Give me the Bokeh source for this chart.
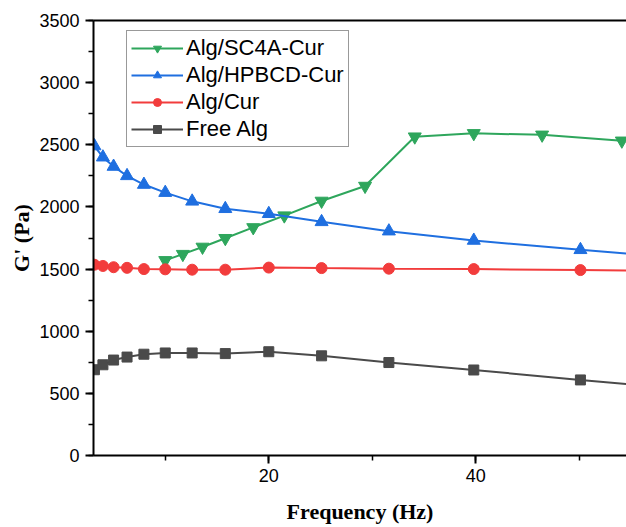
from bokeh.plotting import figure
from bokeh.models import (Range1d, SingleIntervalTicker, LinearAxis, FixedTicker,
                          Legend, LegendItem)
from bokeh.embed import file_html
from bokeh.resources import INLINE

# ---- data ----
freq_std = [3.16, 3.98, 5.01, 6.31, 7.94, 10.0, 12.6, 15.8, 20.0, 25.1, 31.6, 39.8, 50.1, 63.1]
freq_sc4a = [10.0, 11.7, 13.6, 15.8, 18.5, 21.5, 25.1, 29.3, 34.1, 39.8, 46.4, 54.1]

g_sc4a_cur = [1570, 1620, 1678, 1748, 1835, 1930, 2048, 2168, 2565, 2592, 2580, 2532]
g_hpbcd_cur = [2490, 2400, 2325, 2250, 2180, 2115, 2045, 1985, 1945, 1880, 1805, 1730, 1655, 1570]
g_cur = [1535, 1525, 1515, 1510, 1500, 1498, 1495, 1495, 1512, 1508, 1503, 1500, 1492, 1482]
g_free = [690, 730, 768, 792, 815, 825, 825, 820, 835, 802, 748, 688, 608, 510]

labels = ["Alg/SC4A-Cur", "Alg/HPBCD-Cur", "Alg/Cur", "Free Alg"]
colors = ["#2EA65C", "#1F6FE0", "#F23C3C", "#4A4A4A"]

p = figure(width=626, height=527, output_backend="svg", toolbar_location=None,
           x_range=Range1d(3.07, 54.55), y_range=Range1d(0, 3500),
           min_border_left=93, min_border_right=0, min_border_top=20, min_border_bottom=72,
           x_axis_label="Frequency (Hz)", y_axis_label="G' (Pa)")
p.outline_line_color = None
p.xgrid.grid_line_color = None
p.ygrid.grid_line_color = None
p.background_fill_color = "white"
p.border_fill_color = "white"

p.xaxis.ticker = SingleIntervalTicker(interval=20, num_minor_ticks=2)
p.yaxis.ticker = SingleIntervalTicker(interval=500, num_minor_ticks=2)

for ax in (p.xaxis[0], p.yaxis[0]):
    ax.axis_line_width = 2
    ax.axis_line_color = "black"
    ax.major_tick_line_width = 2
    ax.minor_tick_line_width = 1.5
    ax.major_tick_line_color = "black"
    ax.minor_tick_line_color = "black"
    ax.major_tick_out = 8
    ax.major_tick_in = 0
    ax.minor_tick_out = 5
    ax.minor_tick_in = 0
    ax.major_label_text_font = "Liberation Sans"
    ax.major_label_text_font_size = "18px"
    ax.major_label_text_color = "black"
    ax.axis_label_text_font = "Liberation Serif"
    ax.axis_label_text_font_style = "bold"
    ax.axis_label_text_font_size = "22px"
    ax.axis_label_text_color = "black"

p.xaxis.major_label_standoff = 5
p.xaxis.axis_label_standoff = 14
p.yaxis.major_label_standoff = 6
p.yaxis.axis_label_standoff = 2

top = LinearAxis(ticker=FixedTicker(ticks=[]), axis_line_width=2, axis_line_color="black",
                 major_label_text_font_size="0px")
p.add_layout(top, "above")

series = [
    (freq_sc4a, g_sc4a_cur, "inverted_triangle", 13),
    (freq_std, g_hpbcd_cur, "triangle", 13),
    (freq_std, g_cur, "circle", 11),
    (freq_std, g_free, "square", 10),
]

items = []
for (xs, ys, mk, sz), lab, col in zip(series, labels, colors):
    ln = p.line(xs, ys, line_color=col, line_width=2)
    sc = p.scatter(xs, ys, marker=mk, size=sz, fill_color=col, line_color=col)
    items.append(LegendItem(label=lab, renderers=[ln, sc]))

legend = Legend(items=items, location=(33, 308))
legend.label_text_font = "Liberation Sans"
legend.label_text_font_size = "22px"
legend.label_text_color = "black"
legend.glyph_width = 52
legend.glyph_height = 20
legend.label_height = 20
legend.label_standoff = 3
legend.padding = 4
legend.spacing = 1
legend.margin = 0
legend.border_line_color = "#333333"
legend.border_line_width = 1
legend.background_fill_color = "white"
legend.background_fill_alpha = 1
p.add_layout(legend, "center")

open("out.html", "w").write(file_html(p, INLINE))
